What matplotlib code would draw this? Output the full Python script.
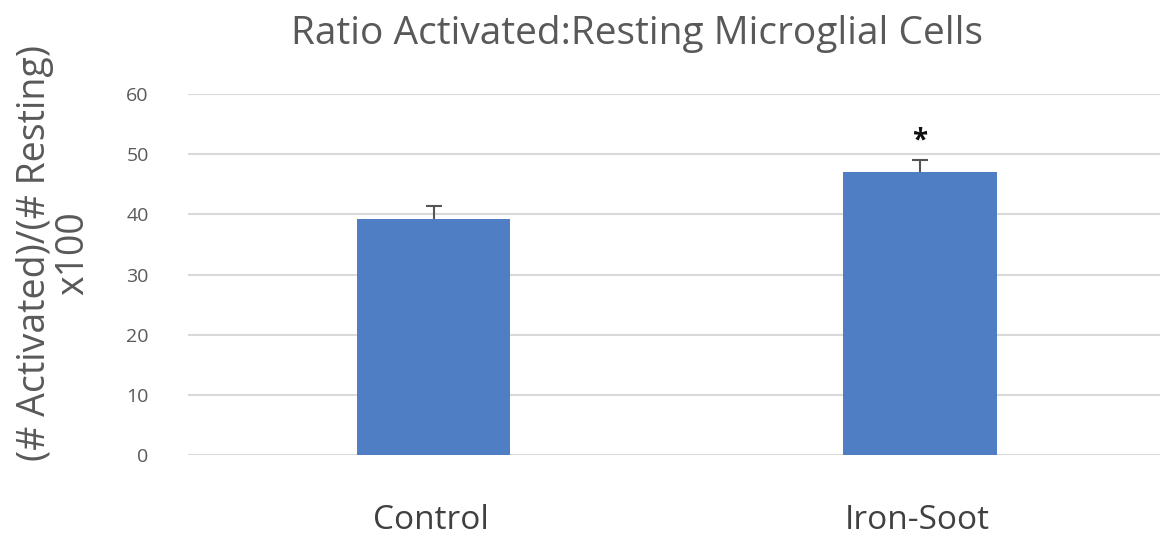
import numpy as np
import matplotlib
matplotlib.use('Agg')
import matplotlib.pyplot as plt

categories = ['Control', 'Iron-Soot']
ratio = [39.2, 47.0]
err = [2.2, 2.0]
signif = ['', '*']

plt.rcParams['font.family'] = ['Open Sans', 'DejaVu Sans']

def main():
    fig = plt.figure(figsize=(11.65, 5.41), dpi=100)
    ax = fig.add_axes([0.161, 0.159, 0.835, 0.667])

    x = np.arange(len(categories))
    ax.bar(x + 0.006, ratio, width=0.315, color='#4f7ec4', zorder=3)
    eb = ax.errorbar(x + 0.006, ratio, yerr=[np.zeros(len(err)), err], fmt='none',
                     ecolor='#555555', elinewidth=1.5, capsize=6, capthick=1.5, zorder=2)
    # only keep the upper cap
    eb[1][0].set_visible(False)
    for xi, v, e, s in zip(x, ratio, err, signif):
        if s:
            ax.text(xi + 0.006, v + e + 0.8, s, ha='center', va='bottom', fontsize=20,
                    fontweight='bold', color='#111111')

    ax.set_xlim(-0.5, 1.5)
    ax.set_ylim(0, 60)
    ax.set_yticks(np.arange(0, 61, 10))
    ax.yaxis.grid(True, color='#d9d9d9', lw=1.5, zorder=0)
    ax.set_axisbelow(True)
    for sp in ax.spines.values():
        sp.set_visible(False)
    ax.tick_params(axis='y', length=0, pad=28, labelsize=14, labelcolor='#595959')
    ax.tick_params(axis='x', length=0, pad=35, labelsize=24, labelcolor='#404040')
    ax.set_xticks(x)
    ax.set_xticklabels(categories)

    ax.set_ylabel('(# Activated)/(# Resting)\nx100', fontsize=27, color='#595959',
                  linespacing=1.0)
    ax.yaxis.set_label_coords(-0.098, 0.56)
    fig.text(0.547, 0.937, 'Ratio Activated:Resting Microglial Cells', ha='center',
             va='center', fontsize=28, color='#595959')

    fig.savefig('out.png', dpi=100)

if __name__ == '__main__':
    main()
